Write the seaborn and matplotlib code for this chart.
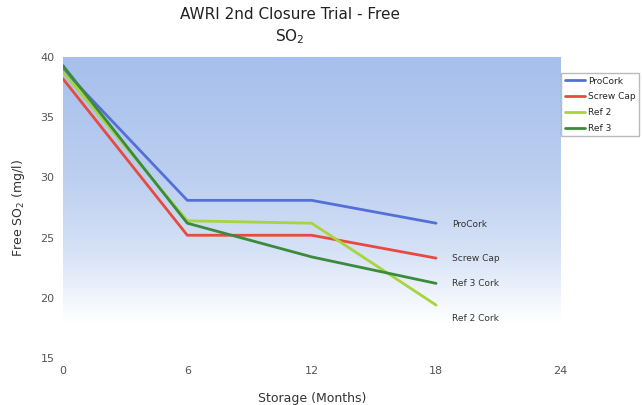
import numpy as np
import pandas as pd
import matplotlib
matplotlib.use("Agg")
import matplotlib.pyplot as plt
import seaborn as sns
from matplotlib.colors import LinearSegmentedColormap

# dados
months = [0, 6, 12, 18]
procork = [39.0, 28.1, 28.1, 26.2]
screw_cap = [38.2, 25.2, 25.2, 23.3]
ref2 = [38.8, 26.4, 26.2, 19.4]
ref3 = [39.3, 26.2, 23.4, 21.2]

series_names = ["ProCork", "Screw Cap", "Ref 2", "Ref 3"]
end_labels = ["ProCork", "Screw Cap", "Ref 2 Cork", "Ref 3 Cork"]
colors = ["#5470d6", "#e84a40", "#a8d43c", "#3c8a3c"]

df = pd.DataFrame({
    "Month": months * 4,
    "SO2": procork + screw_cap + ref2 + ref3,
    "Closure": [n for n in series_names for _ in months],
})

sns.set_style("white")
plt.rcParams["font.family"] = ["DejaVu Sans"]

fig = plt.figure(figsize=(6.42, 4.05), dpi=100)
ax = fig.add_axes([0.098, 0.116, 0.775, 0.743])

# fundo azul em degrade
cmap = LinearSegmentedColormap.from_list(
    "bg", [(0, "#ffffff"), (0.12, "#ffffff"), (0.35, "#d6e2f6"),
           (0.6, "#bccff0"), (1, "#a6bfec")])
grad = np.linspace(0, 1, 256).reshape(-1, 1)
ax.imshow(grad, extent=[0, 24, 15, 40], origin="lower", aspect="auto",
          cmap=cmap, zorder=0)

sns.lineplot(data=df, x="Month", y="SO2", hue="Closure", palette=colors,
             linewidth=2.0, ax=ax, zorder=3)

ax.set_xlim(0, 24)
ax.set_ylim(15, 40)
ax.set_xticks([0, 6, 12, 18, 24])
ax.set_yticks([15, 20, 25, 30, 35, 40])
ax.tick_params(axis="both", length=0, labelsize=8, colors="#555555", pad=6)
for s in ax.spines.values():
    s.set_visible(False)

ax.set_xlabel("Storage (Months)", fontsize=9, color="#333333", labelpad=11)
ax.set_ylabel("Free SO$_2$ (mg/l)", fontsize=9, color="#333333", labelpad=10)

# rotulos no fim das linhas
label_y = [procork[-1] - 0.1, screw_cap[-1], ref2[-1] - 1.1, ref3[-1]]
for txt, yv in zip(end_labels, label_y):
    ax.text(18.75, yv, txt, fontsize=6.5, color="#333333", va="center", ha="left")

fig.text(0.452, 0.965, "AWRI 2nd Closure Trial - Free", fontsize=11,
         ha="center", va="center", color="#222222")
fig.text(0.452, 0.91, "SO$_2$", fontsize=11, ha="center", va="center",
         color="#222222")

handles, labels = ax.get_legend_handles_labels()
ax.legend(handles, labels, loc="upper left", bbox_to_anchor=(0.874, 0.82),
          bbox_transform=fig.transFigure, fontsize=6.5, frameon=True,
          fancybox=False, edgecolor="#aaaaaa", handlelength=2.2,
          handletextpad=0.4, labelspacing=0.75, borderpad=0.4,
          borderaxespad=0, title=None)

fig.savefig("out.png", dpi=100)
